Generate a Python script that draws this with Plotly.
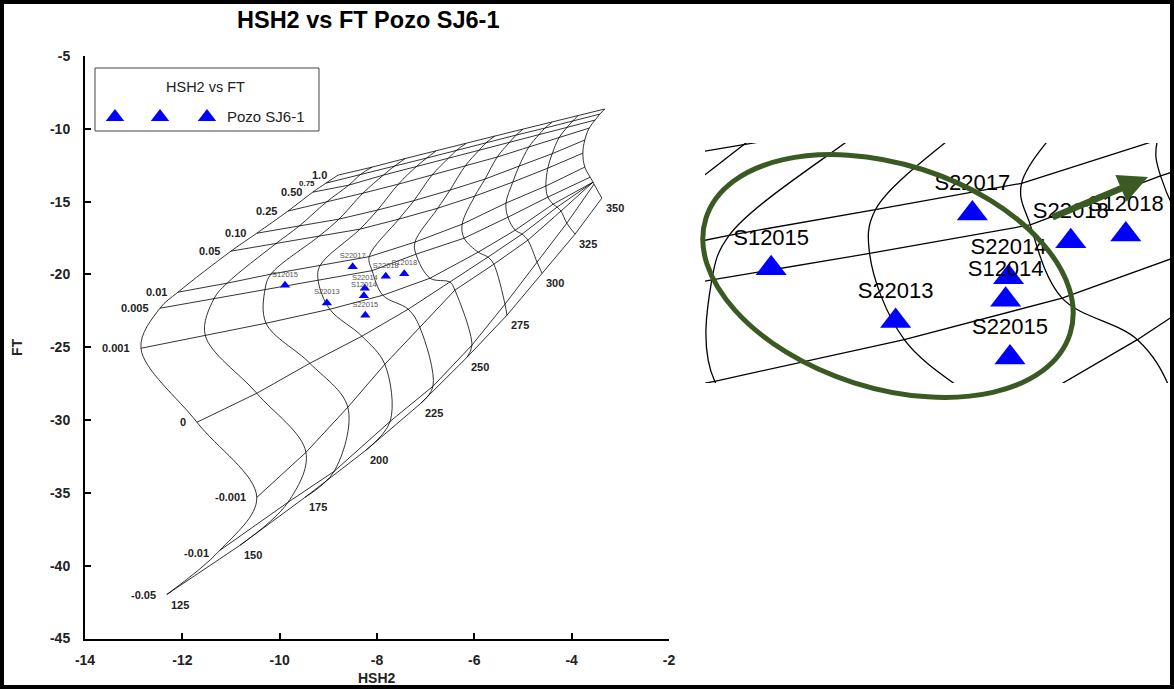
import math
import plotly.graph_objects as go

W, H = 1174, 689

# ---------------- data ----------------
temperatures = [125, 150, 175, 200, 225, 250, 275, 300, 325, 350]
vapor_fractions = [1.0, 0.75, 0.50, 0.25, 0.10, 0.05, 0.01, 0.005, 0.001, 0, -0.001, -0.01, -0.05]
vapor_labels = ["1.0", "0.75", "0.50", "0.25", "0.10", "0.05", "0.01", "0.005", "0.001", "0", "-0.001", "-0.01", "-0.05"]

# grid nodes (HSH2, FT) for each temperature, ordered as vapor_fractions
hsh2_t125 = [-8.80, -9.05, -9.32, -9.83, -10.47, -11.00, -12.09, -12.46, -12.85, -11.70, -10.47, -11.23, -12.32]
ft_t125 = [-13.18, -13.73, -14.35, -15.65, -17.17, -18.40, -21.22, -22.32, -25.07, -30.15, -35.31, -38.95, -41.98]
hsh2_t150 = [-8.10, -8.33, -8.58, -9.04, -9.60, -10.08, -11.08, -11.35, -11.53, -10.47, -9.46, -9.83, -10.82]
ft_t150 = [-12.63, -13.11, -13.87, -15.03, -16.68, -17.89, -20.60, -21.67, -24.18, -28.16, -32.22, -35.65, -38.61]
hsh2_t175 = [-7.42, -7.64, -7.87, -8.29, -8.78, -9.19, -10.18, -10.30, -10.28, -9.38, -8.60, -8.88, -9.48]
ft_t175 = [-12.04, -12.56, -13.18, -14.42, -16.20, -17.37, -19.98, -21.01, -23.35, -26.10, -29.12, -33.52, -35.31]
hsh2_t200 = [-6.79, -6.98, -7.19, -7.56, -7.99, -8.35, -9.17, -9.21, -8.97, -8.31, -7.84, -7.73, -8.23]
ft_t200 = [-11.53, -12.01, -12.59, -13.80, -15.58, -16.89, -19.39, -20.40, -22.39, -24.24, -26.17, -30.09, -32.08]
hsh2_t225 = [-6.17, -6.36, -6.54, -6.87, -7.24, -7.55, -8.16, -8.10, -7.88, -7.36, -7.12, -6.85, -7.10]
ft_t225 = [-11.01, -11.46, -12.04, -13.18, -14.93, -16.20, -18.78, -19.74, -21.43, -22.39, -23.63, -27.68, -28.85]
hsh2_t250 = [-5.58, -5.74, -5.90, -6.19, -6.50, -6.75, -7.22, -7.20, -6.91, -6.50, -6.40, -6.05, -6.15]
ft_t250 = [-10.50, -10.91, -11.46, -12.56, -14.21, -15.45, -17.78, -18.61, -20.26, -20.53, -21.08, -24.86, -25.69]
hsh2_t275 = [-5.00, -5.14, -5.29, -5.53, -5.78, -5.99, -6.25, -6.21, -5.92, -5.72, -5.60, -5.37, -5.33]
ft_t275 = [-10.02, -10.43, -10.98, -11.94, -13.45, -14.62, -16.55, -17.51, -18.47, -18.81, -19.30, -22.04, -22.80]
hsh2_t300 = [-4.40, -4.55, -4.68, -4.88, -5.08, -5.21, -5.35, -5.31, -5.16, -5.02, -4.90, -4.71, -4.61]
ft_t300 = [-9.54, -9.95, -10.43, -11.25, -12.56, -13.66, -15.10, -16.07, -16.96, -17.23, -17.65, -19.16, -19.91]
hsh2_t325 = [-3.87, -3.98, -4.10, -4.26, -4.40, -4.49, -4.53, -4.49, -4.38, -4.30, -4.22, -4.10, -3.93]
ft_t325 = [-9.10, -9.47, -9.92, -10.62, -11.71, -12.70, -13.93, -14.69, -15.17, -15.38, -15.65, -16.48, -17.23]
hsh2_t350 = [-3.32, -3.42, -3.52, -3.64, -3.73, -3.77, -3.73, -3.62, -3.56, -3.56, -3.56, -3.54, -3.38]
ft_t350 = [-8.64, -8.99, -9.40, -9.95, -10.77, -11.67, -12.63, -13.32, -13.66, -13.66, -13.66, -13.80, -14.76]

samples = ["S12015", "S22013", "S22017", "S22014", "S12014", "S22015", "S22018", "S12018", "S22016"]
sample_hsh2 = [-9.89, -9.03, -8.50, -8.25, -8.27, -8.24, -7.82, -7.44, -14.49]
sample_ft = [-20.74, -21.96, -19.48, -20.95, -21.47, -22.80, -20.12, -19.96, -22.94]

x_ticks = [-14, -12, -10, -8, -6, -4, -2]
y_ticks = [-5, -10, -15, -20, -25, -30, -35, -40, -45]

grid_h = [hsh2_t125, hsh2_t150, hsh2_t175, hsh2_t200, hsh2_t225,
          hsh2_t250, hsh2_t275, hsh2_t300, hsh2_t325, hsh2_t350]
grid_f = [ft_t125, ft_t150, ft_t175, ft_t200, ft_t225,
          ft_t250, ft_t275, ft_t300, ft_t325, ft_t350]

# ---------------- figure ----------------
FONT = "Liberation Sans, Arial, sans-serif"
GREEN = "#3A5A24"
BLUE = "#0000FF"


def px(x):
    return x / W


def py(y):
    return 1 - y / H


fig = go.Figure()

for xa, ya, lw in [("x", "y", 0.8), ("x2", "y2", 1.3)]:
    for i, T in enumerate(temperatures):
        fig.add_trace(go.Scatter(
            x=grid_h[i], y=grid_f[i], mode="lines",
            line=dict(color="black", width=lw, shape="spline", smoothing=1.0),
            xaxis=xa, yaxis=ya, hoverinfo="skip", showlegend=False))
    for j, v in enumerate(vapor_fractions):
        fig.add_trace(go.Scatter(
            x=[g[j] for g in grid_h], y=[g[j] for g in grid_f], mode="lines",
            line=dict(color="black", width=lw),
            xaxis=xa, yaxis=ya, hoverinfo="skip", showlegend=False))

# samples - main
fig.add_trace(go.Scatter(
    x=sample_hsh2, y=sample_ft, mode="markers+text", text=samples,
    textposition="top center",
    textfont=dict(size=7.5, color="#555555", family=FONT),
    marker=dict(symbol="triangle-up", size=9, color=BLUE),
    cliponaxis=False, xaxis="x", yaxis="y", showlegend=False))

# samples - inset
fig.add_trace(go.Scatter(
    x=sample_hsh2, y=sample_ft, mode="markers+text", text=samples,
    textposition="top center",
    textfont=dict(size=22, color="black", family=FONT),
    marker=dict(symbol="triangle-up", size=27, color=BLUE),
    cliponaxis=True, xaxis="x2", yaxis="y2", showlegend=False))

# legend glyphs on an overlay pixel axis
fig.add_trace(go.Scatter(
    x=[115, 160, 207], y=[117, 117, 117], mode="markers",
    marker=dict(symbol="triangle-up", size=16, color=BLUE),
    xaxis="x3", yaxis="y3", showlegend=False, hoverinfo="skip"))

annotations = []
# vapour fraction labels
for j, lab in enumerate(vapor_labels):
    small = lab == "0.75"
    annotations.append(dict(
        x=hsh2_t125[j], y=ft_t125[j], xref="x", yref="y",
        text=f"<b>{lab}</b>", showarrow=False, xanchor="right", yanchor="middle",
        xshift=-9, yshift=(-3 if lab == "-0.01" else 0),
        font=dict(size=8 if small else 11, color="#222222", family=FONT)))
# temperature labels
for i, T in enumerate(temperatures):
    annotations.append(dict(
        x=grid_h[i][-1], y=grid_f[i][-1], xref="x", yref="y",
        text=f"<b>{T}</b>", showarrow=False, xanchor="left", yanchor="middle",
        xshift=2, yshift=-10,
        font=dict(size=11, color="#222222", family=FONT)))


def paper_text(x, y, text, size, color="#222222", xanchor="center", angle=0):
    annotations.append(dict(x=px(x), y=py(y), xref="paper", yref="paper",
                            text=text, showarrow=False, xanchor=xanchor,
                            yanchor="middle", textangle=angle,
                            font=dict(size=size, color=color, family=FONT)))


paper_text(368, 20, "<b>HSH2 vs FT Pozo SJ6-1</b>", 23.5, "black")
paper_text(377, 678, "<b>HSH2</b>", 14)
paper_text(17, 347, "<b>FT</b>", 14, angle=-90)
paper_text(205, 87, "HSH2 vs FT", 14.5)
paper_text(225, 117, "Pozo SJ6-1", 15, xanchor="left")

# green arrow
annotations.append(dict(x=px(1148), y=py(177), xref="paper", yref="paper",
                        ax=-97, ay=41, text="", showarrow=True,
                        arrowhead=2, arrowsize=0.9, arrowwidth=6.5,
                        arrowcolor=GREEN))

# rotated ellipse as cubic Bezier path (pixel space -> paper)
cx, cy, a, b, th = 888, 276, 191, 112, math.radians(17.6)
ux, uy = math.cos(th), math.sin(th)
vx, vy = -math.sin(th), math.cos(th)
k = 0.5523


def pt(x, y):
    return f"{px(x):.5f},{py(y):.5f}"


P0 = (cx + a * ux, cy + a * uy)
P1 = (cx + b * vx, cy + b * vy)
P2 = (cx - a * ux, cy - a * uy)
P3 = (cx - b * vx, cy - b * vy)
path = (
    f"M {pt(*P0)} "
    f"C {pt(P0[0] + k * b * vx, P0[1] + k * b * vy)} {pt(P1[0] + k * a * ux, P1[1] + k * a * uy)} {pt(*P1)} "
    f"C {pt(P1[0] - k * a * ux, P1[1] - k * a * uy)} {pt(P2[0] + k * b * vx, P2[1] + k * b * vy)} {pt(*P2)} "
    f"C {pt(P2[0] - k * b * vx, P2[1] - k * b * vy)} {pt(P3[0] - k * a * ux, P3[1] - k * a * uy)} {pt(*P3)} "
    f"C {pt(P3[0] + k * a * ux, P3[1] + k * a * uy)} {pt(P0[0] - k * b * vx, P0[1] - k * b * vy)} {pt(*P0)} Z"
)

shapes = [
    dict(type="path", path=path, xref="paper", yref="paper",
         line=dict(color=GREEN, width=5)),
    dict(type="rect", xref="paper", yref="paper",
         x0=px(95), x1=px(319), y0=py(131), y1=py(68),
         line=dict(color="#444444", width=1)),
    dict(type="rect", xref="paper", yref="paper", x0=0, x1=1, y0=0, y1=1,
         line=dict(color="black", width=8)),
]

tickfont = dict(size=14, color="#222222", family=FONT, weight="bold")

fig.update_layout(
    template="none",
    width=W, height=H, autosize=False,
    margin=dict(l=0, r=0, t=0, b=0, pad=0, autoexpand=False),
    paper_bgcolor="white", plot_bgcolor="rgba(0,0,0,0)",
    font=dict(family=FONT),
    showlegend=False,
    xaxis=dict(domain=[px(85), px(669)], range=[-14, -2],
               tickvals=x_ticks, ticktext=[str(v) for v in x_ticks],
               ticks="inside", ticklen=6, tickwidth=1.5, tickcolor="black",
               showline=True, linewidth=2, linecolor="black", automargin=False,
               showgrid=False, zeroline=False, tickfont=tickfont,
               ticklabelstandoff=8, anchor="y"),
    yaxis=dict(domain=[py(638.5), py(56)], range=[-45, -5],
               tickvals=y_ticks, ticktext=[str(v) for v in y_ticks],
               ticks="inside", ticklen=6, tickwidth=1.5, tickcolor="black",
               showline=True, linewidth=2, linecolor="black", automargin=False,
               showgrid=False, zeroline=False, tickfont=tickfont,
               ticklabelstandoff=10, anchor="x"),
    xaxis2=dict(domain=[px(705), 1.0], range=[-10.347, -7.107], visible=False,
                anchor="y2", showgrid=False, zeroline=False, automargin=False),
    yaxis2=dict(domain=[py(383), py(143)], range=[-23.39, -17.85], visible=False,
                anchor="x2", showgrid=False, zeroline=False, automargin=False),
    xaxis3=dict(domain=[0, 1], range=[0, W], visible=False, anchor="y3",
                automargin=False),
    yaxis3=dict(domain=[0, 1], range=[H, 0], visible=False, anchor="x3",
                automargin=False),
    annotations=annotations,
    shapes=shapes,
)

fig.write_html("out.html",
               config={"displayModeBar": False},
               post_script="document.body.style.margin='0px';"
                           "document.body.style.overflow='hidden';")
